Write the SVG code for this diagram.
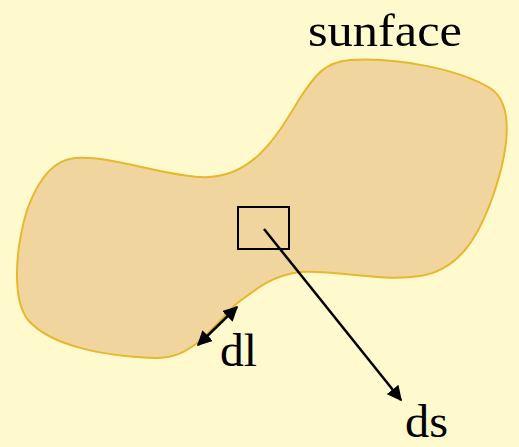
<svg xmlns="http://www.w3.org/2000/svg" width="519" height="447" viewBox="0 0 519 447">
<style>
.lbl{font-family:"Liberation Serif","DejaVu Serif",serif;font-size:46px;fill:#000}
.ln{stroke:#000;stroke-width:2.5;fill:none}
</style>
<defs>
<marker id="ah" viewBox="0 0 10 10" refX="9" refY="5" markerWidth="6" markerHeight="6" orient="auto-start-reverse" markerUnits="strokeWidth">
<path d="M0,0 L10,5 L0,10 z" fill="#000"/>
</marker>
</defs>
<rect width="519" height="447" fill="#FFFACD"/>
<g id="surface">
<path d="M300,98 C315,75 325,62 350,60 C400,57 460,70 490,88 C515,104 508,150 495,190 C480,235 460,270 420,276 C380,282 340,270 300,272 C270,276 255,290 235,305 C210,330 190,360 155,358 C100,356 50,345 28,320 C12,300 15,250 27,210 C40,175 55,160 75,158 C110,155 160,175 200,177 C250,180 275,140 300,98 Z" fill="#F0D59F" stroke="#E6B82E" stroke-width="2"/>
</g>
<g id="element">
<rect x="238" y="207" width="51" height="42" fill="none" stroke="#000" stroke-width="2"/>
</g>
<g id="connectors">
<line class="ln" x1="264" y1="229" x2="401" y2="400" marker-end="url(#ah)"/>
<line class="ln" x1="198" y1="345" x2="237" y2="307" marker-start="url(#ah)" marker-end="url(#ah)"/>
</g>
<g id="labels">
<text class="lbl" x="308" y="46" textLength="154" lengthAdjust="spacingAndGlyphs">sunface</text>
<text class="lbl" x="220" y="366" textLength="37" lengthAdjust="spacingAndGlyphs">dl</text>
<text class="lbl" x="405" y="437" textLength="43" lengthAdjust="spacingAndGlyphs">ds</text>
</g>
</svg>
